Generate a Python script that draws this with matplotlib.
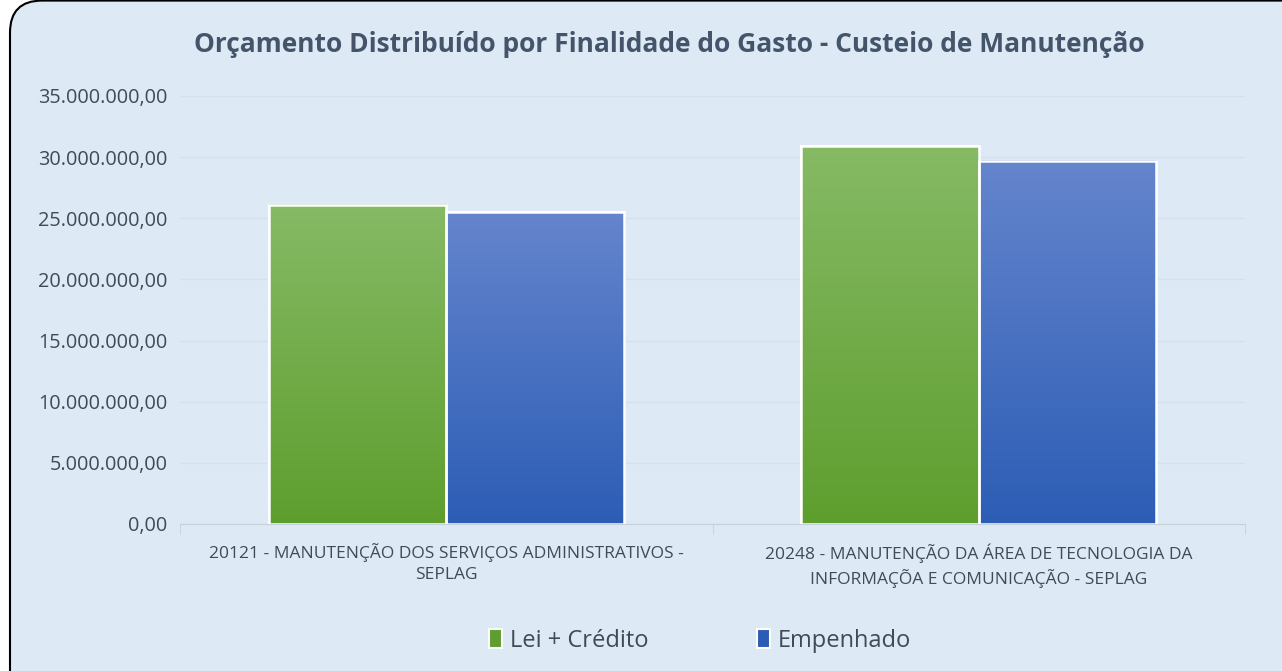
#import necessary libraries
import numpy as np
import matplotlib.pyplot as plt
from matplotlib.patches import FancyBboxPatch
from matplotlib.colors import LinearSegmentedColormap
from matplotlib.ticker import FuncFormatter

#chart data
categorias = ['20121 - MANUTENÇÃO DOS SERVIÇOS ADMINISTRATIVOS -\nSEPLAG',
              '20248 - MANUTENÇÃO DA ÁREA DE TECNOLOGIA DA\nINFORMAÇÕA E COMUNICAÇÃO - SEPLAG']
lei_credito = [26100000, 30900000]
empenhado = [25500000, 29700000]
series_nomes = ['Lei + Crédito', 'Empenhado']

plt.rcParams['font.family'] = ['Open Sans', 'DejaVu Sans']

fig = plt.figure(figsize=(12.82, 6.71), dpi=100)
fig.patch.set_facecolor('white')

#rounded background box
fundo = FancyBboxPatch((10 / 1282, -0.05), 1.05, 1.05 - 14 / 671 + 0.02,
                       boxstyle='round,pad=0,rounding_size=0.025',
                       transform=fig.transFigure, facecolor='#dde9f5',
                       edgecolor='black', linewidth=1.5, mutation_aspect=1282 / 671,
                       zorder=-10)
fig.patches.append(fundo)

ax = fig.add_axes([180 / 1282, 1 - 524 / 671, 1065 / 1282, 428 / 671])
ax.set_facecolor('none')

x = np.arange(len(categorias))
w = 0.333
cores = [('#5e9e2e', '#86ba65'), ('#2c5db5', '#6585cd')]

for i, (vals, nome) in enumerate(zip([lei_credito, empenhado], series_nomes)):
    barras = ax.bar(x + (i - 0.5) * w, vals, w, color=cores[i][0], label=nome,
                    edgecolor='white', linewidth=1.5, zorder=3)
    cmap = LinearSegmentedColormap.from_list('g%d' % i, cores[i])
    for b in barras:
        grad = np.linspace(0, 1, 256).reshape(-1, 1)
        ax.imshow(grad, cmap=cmap, origin='lower', aspect='auto', zorder=3.5,
                  extent=(b.get_x(), b.get_x() + b.get_width(), 0, b.get_height()))
        ax.add_patch(plt.Rectangle((b.get_x(), 0), b.get_width(), b.get_height(),
                                   fill=False, edgecolor='white', linewidth=1.8, zorder=4))

ax.set_xlim(-0.5, 1.5)
ax.set_ylim(0, 35000000)
ax.set_yticks(np.arange(0, 35000001, 5000000))
ax.yaxis.set_major_formatter(FuncFormatter(
    lambda v, p: '{:,.2f}'.format(v).replace(',', 'X').replace('.', ',').replace('X', '.')))
ax.grid(axis='y', color='#d6dfea', linewidth=1, zorder=0)

ax.set_xticks(x)
ax.set_xticklabels(categorias, fontsize=12.5, color='#404a59', linespacing=1.4)
ax.set_xticks([-0.5, 0.5, 1.5], minor=True)
ax.tick_params(axis='x', which='major', length=0, pad=14)
ax.tick_params(axis='x', which='minor', length=7, color='#c8d0d9')
ax.tick_params(axis='y', length=0, labelsize=14.3, labelcolor='#404a59', pad=9)
for s in ['top', 'right', 'left']:
    ax.spines[s].set_visible(False)
ax.spines['bottom'].set_color('#c8d0d9')

fig.text(0.522, 1 - 45 / 671, 'Orçamento Distribuído por Finalidade do Gasto - Custeio de Manutenção',
         ha='center', va='center', fontsize=19, fontweight='bold', color='#44546a')

fig.legend(loc='center', bbox_to_anchor=(0.546, 1 - 641 / 671), ncol=2, frameon=False,
           fontsize=17, handlelength=0.55, handleheight=0.85, handletextpad=0.35,
           columnspacing=4.6, labelcolor='#404a59')

fig.savefig('out.png', dpi=100)
